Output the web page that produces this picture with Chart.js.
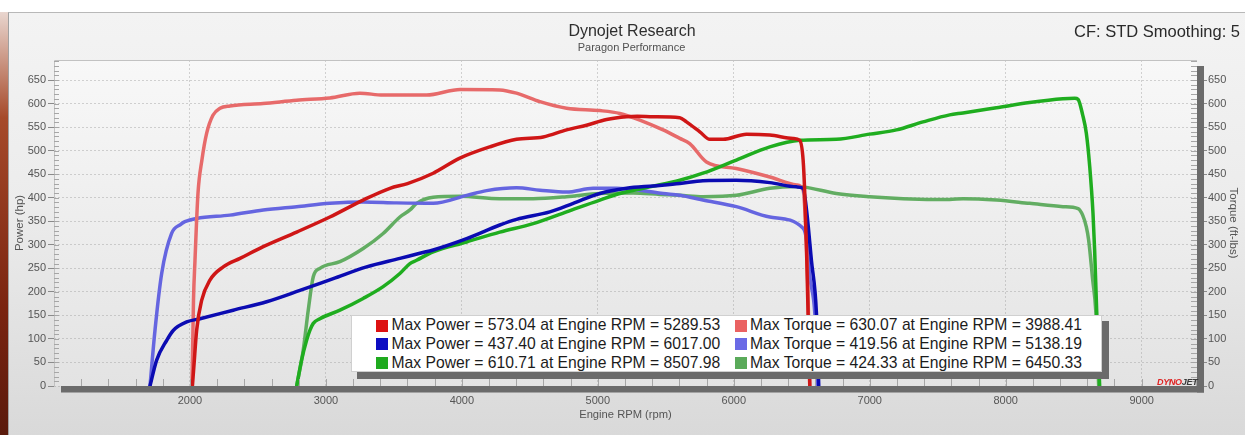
<!DOCTYPE html>
<html>
<head>
<meta charset="utf-8">
<script src="https://cdn.jsdelivr.net/npm/chart.js@4.4.1/dist/chart.umd.min.js"></script>
<style>
  html, body { margin: 0; padding: 0; }
  body { width: 1245px; height: 435px; overflow: hidden; position: relative; background: #ffffff;
         font-family: 'Liberation Sans', Arial, sans-serif; }
  #stripe { position: absolute; left: 0; top: 12px; width: 8px; height: 423px;
            background: linear-gradient(to bottom, #e9d6cf 0%, #a64a2a 25%, #7a2410 70%, #5a1a0c 100%); }
  #panel { position: absolute; left: 8px; top: 12px; width: 1237px; height: 423px; box-sizing: border-box;
           border-top: 1px solid #b8b8b8; border-left: 1px solid #a0a0a0;
           background: linear-gradient(to bottom, #f3f3f3 0%, #ececec 45%, #d9d9d9 100%); }
  canvas { position: absolute; left: 0; top: 0; }
  .txt { position: absolute; white-space: nowrap; line-height: 1; }
  #title { font-size: 16px; color: #2e2e2e; top: 22.5px; left: 0; width: 1264px; text-align: center; }
  #subtitle { font-size: 11px; color: #505050; top: 42px; left: 0; width: 1263px; text-align: center; }
  #cf { font-size: 16.5px; color: #2a2a2a; top: 23px; right: 5px; }
  #legShadow { position: absolute; left: 357px; top: 321px; width: 752px; height: 58px; background: #6b6b6b; }
  #legBox { position: absolute; left: 351px; top: 315px; width: 751px; height: 57px; background: #ffffff;
            box-sizing: border-box; border: 1px solid #d0d0d0; }
  .sq { position: absolute; width: 12px; height: 12px; }
  .lt { position: absolute; font-size: 15.7px; color: #1c1c1c; line-height: 1; white-space: nowrap; }
  #logo { position: absolute; left: 1157px; top: 377px; font-size: 9px; font-weight: bold; font-style: italic; letter-spacing: -0.3px; }
</style>
</head>
<body>
<div id="stripe"></div>
<div id="panel"></div>
<canvas id="c" width="1245" height="435"></canvas>
<div class="txt" id="title">Dynojet Research</div>
<div class="txt" id="subtitle">Paragon Performance</div>
<div class="txt" id="cf">CF: STD Smoothing: 5</div>
<div id="legShadow"></div>
<div id="legBox"></div>
<div id="logo"><span style="color:#e02424">DYNO</span><span style="color:#3a3a3a">JET</span></div>
<script>
// ---------------- DATA ----------------
const xTickValues = [2000, 3000, 4000, 5000, 6000, 7000, 8000, 9000];
const yTickValues = [0, 50, 100, 150, 200, 250, 300, 350, 400, 450, 500, 550, 600, 650];

const redPowerRpm  = [2018,2029,2049,2086,2147,2245,2368,2539,2785,3029,3274,3471,3600,3789,3985,4206,4402,4598,4770,4917,5064,5211,5290,5407,5603,5652,5750,5824,5922,6093,6265,6436,6485,6510,6522,6537,6559];
const redPowerHp   = [0,42,118,182,225,253,271,296,327,359,395,420,430,452,484,508,524,529,544,554,566,572,573,572,570,561,540,524,524,535,533,526,522,480,409,267,0];

const redTorqueRpm = [2015,2026,2037,2059,2088,2123,2169,2221,2294,2537,2785,3029,3250,3419,3593,3740,3988,4279,4402,4574,4770,5015,5162,5309,5480,5603,5676,5799,6019,6265,6461,6510,6529,6546,6559];
const redTorqueFt  = [0,182,267,409,480,537,575,590,595,600,607,612,622,618,618,618,630,629,622,604,590,585,579,565,544,526,515,476,462,444,427,416,338,196,0];

const bluePowerRpm = [1706,1755,1829,1877,1976,2074,2318,2564,2809,3054,3299,3544,3691,3789,4035,4279,4402,4647,4819,5015,5211,5407,5603,5773,6017,6265,6461,6510,6535,6571,6608,6625];
const bluePowerHp  = [0,55,97,118,136,143,161,179,203,228,253,271,282,289,313,342,354,370,388,409,420,425,430,436,437,432,423,420,374,267,154,0];

const blueTorqueRpm = [1706,1743,1792,1865,1930,1963,2049,2294,2539,2785,3029,3274,3520,3789,4035,4182,4402,4574,4770,4966,5138,5309,5480,5603,5773,6019,6265,6510,6535,6559,6596,6618];
const blueTorqueFt  = [0,119,239,324,343,349,356,363,374,381,388,391,389,388,405,415,421,416,412,420,420,416,409,405,395,381,359,335,310,232,154,0];

const greenPowerRpm = [2785,2821,2858,2882,2907,2956,3103,3274,3421,3544,3618,3667,3789,4035,4279,4524,4770,5015,5162,5382,5603,5773,6019,6265,6485,6754,7000,7196,7392,7588,7686,7932,8176,8421,8508,8532,8566,8593,8618,8642,8654,8669,8691];
const greenPowerHp  = [0,55,97,118,133,143,161,186,211,239,260,267,285,306,327,345,370,395,409,423,437,452,480,508,522,524,535,544,561,576,580,591,602,610,611,609,576,537,466,367,289,161,0];

const greenTorqueRpm = [2785,2833,2870,2907,2956,3103,3274,3421,3544,3618,3667,3789,3985,4279,4524,4770,5015,5259,5456,5603,5773,6019,6265,6450,6510,6754,7000,7245,7588,7686,7932,8176,8421,8532,8566,8593,8610,8640,8662,8684];
const greenTorqueFt  = [0,76,161,232,250,264,292,324,359,374,388,401,403,398,398,402,409,410,407,405,402,405,420,424,423,409,402,398,396,398,395,388,381,377,363,338,310,225,161,0];

const maxPowerVals  = [573.04, 437.40, 610.71];
const maxPowerRpms  = [5289.53, 6017.00, 8507.98];
const maxTorqueVals = [630.07, 419.56, 424.33];
const maxTorqueRpms = [3988.41, 5138.19, 6450.33];

const powerColors  = ['#cf1616', '#0b0bb2', '#1fad1f'];
const torqueColors = ['#e76a6a', '#6565e0', '#62ad62'];
const powerSquare  = ['#dd1111', '#0d0dc2', '#1faa1f'];
const torqueSquare = ['#ea6262', '#6a6ae6', '#5aaa5a'];

// ---------------- LEGEND (HTML) ----------------
(function buildLegend() {
  const rowsBaseline = [330.7, 349.4, 368.1];
  const fs = 15.7;
  const addRow = (sqX, txtX, color, text, i) => {
    const s = document.createElement('div');
    s.className = 'sq'; s.style.left = sqX + 'px'; s.style.top = (rowsBaseline[i] - 11) + 'px'; s.style.background = color;
    document.body.appendChild(s);
    const t = document.createElement('div');
    t.className = 'lt'; t.style.left = txtX + 'px'; t.style.top = (rowsBaseline[i] - 0.8465 * fs) + 'px';
    t.textContent = text;
    document.body.appendChild(t);
  };
  for (let i = 0; i < 3; i++) {
    addRow(376, 391.5, powerSquare[i], 'Max Power = ' + maxPowerVals[i].toFixed(2) + ' at Engine RPM = ' + maxPowerRpms[i].toFixed(2), i);
    addRow(734.5, 750, torqueSquare[i], 'Max Torque = ' + maxTorqueVals[i].toFixed(2) + ' at Engine RPM = ' + maxTorqueRpms[i].toFixed(2), i);
  }
})();

// ---------------- CHART ----------------
const pts = (xs, ys) => xs.map((x, i) => ({ x: x, y: ys[i] }));
const mk = (label, xs, ys, color, axis) => ({
  label, data: pts(xs, ys), borderColor: color, backgroundColor: color, borderWidth: 3.5,
  pointRadius: 0, fill: false, yAxisID: axis, cubicInterpolationMode: 'monotone',
  borderJoinStyle: 'round', borderCapStyle: 'round'
});

Chart.defaults.font.family = "'Liberation Sans', Arial, sans-serif";

const decor = {
  id: 'decor',
  beforeDraw(chart) {
    const { ctx, chartArea: a } = chart;
    const g = ctx.createLinearGradient(0, a.top, 0, a.bottom);
    g.addColorStop(0, '#f8f8f8'); g.addColorStop(1, '#e3e3e3');
    ctx.save(); ctx.fillStyle = g; ctx.fillRect(a.left, a.top, a.right - a.left, a.bottom - a.top); ctx.restore();
  },
  afterDatasetsDraw(chart) {
    const { ctx, chartArea: a, scales } = chart;
    const x = scales.x, y = scales.y;
    ctx.save();
    ctx.strokeStyle = '#c2c2c2'; ctx.lineWidth = 1;
    ctx.beginPath();
    ctx.moveTo(a.left + 0.5, a.bottom); ctx.lineTo(a.left + 0.5, a.top + 0.5); ctx.lineTo(a.right, a.top + 0.5);
    ctx.stroke();
    ctx.strokeStyle = '#a6a6a6';
    ctx.beginPath();
    for (let v = 10; v <= y.max; v += 10) {
      const py = Math.round(y.getPixelForValue(v)) + 0.5;
      ctx.moveTo(a.left, py); ctx.lineTo(a.left + 5, py);
      ctx.moveTo(a.right - 6, py); ctx.lineTo(a.right, py);
    }
    for (let r = 1200; r < x.max; r += 200) {
      const px = Math.round(x.getPixelForValue(r)) + 0.5;
      ctx.moveTo(px, a.bottom - 7); ctx.lineTo(px, a.bottom);
    }
    ctx.stroke();
    ctx.fillStyle = '#6b6b6b';
    ctx.fillRect(a.left + 7, a.bottom, a.right + 7 - (a.left + 7), 6.5);
    ctx.fillRect(a.right, a.top + 6, 7, a.bottom + 6.5 - (a.top + 6));
    ctx.restore();
  }
};

const gridColor = 'rgba(160,160,160,0.45)';
const setTicks = vals => s => { s.ticks = vals.map(v => ({ value: v })); };

new Chart(document.getElementById('c'), {
  type: 'line',
  data: {
    datasets: [
      mk('Power 1', redPowerRpm, redPowerHp, powerColors[0], 'y'),
      mk('Power 2', bluePowerRpm, bluePowerHp, powerColors[1], 'y'),
      mk('Power 3', greenPowerRpm, greenPowerHp, powerColors[2], 'y'),
      mk('Torque 1', redTorqueRpm, redTorqueFt, torqueColors[0], 'y1'),
      mk('Torque 2', blueTorqueRpm, blueTorqueFt, torqueColors[1], 'y1'),
      mk('Torque 3', greenTorqueRpm, greenTorqueFt, torqueColors[2], 'y1')
    ]
  },
  options: {
    responsive: false, animation: false, events: [],
    layout: { padding: { top: 60, left: 0, right: 0, bottom: 0 } },
    plugins: { legend: { display: false }, tooltip: { enabled: false }, title: { display: false } },
    scales: {
      x: {
        type: 'linear', min: 1000, max: 9407,
        afterBuildTicks: setTicks(xTickValues),
        afterFit: s => { s.height = 49; },
        ticks: { autoSkip: false, maxRotation: 0, minRotation: 0, padding: 8, color: '#555', font: { size: 11 }, callback: v => String(v) },
        grid: { color: gridColor, drawTicks: false },
        border: { display: false, dash: [2, 2] },
        title: { display: true, text: 'Engine RPM (rpm)', color: '#555', font: { size: 11.2 }, padding: { top: 0, bottom: 13 } }
      },
      y: {
        position: 'left', min: 0, max: 692.5,
        afterBuildTicks: setTicks(yTickValues),
        afterFit: s => { s.width = 54; },
        ticks: { autoSkip: false, padding: 2, color: '#555', font: { size: 11 }, callback: v => String(v) },
        grid: { color: gridColor, tickColor: '#8a8a8a', tickLength: 6, tickWidth: 1 },
        border: { display: false, dash: [2, 2] },
        title: { display: true, text: 'Power (hp)', color: '#555', font: { size: 11.5 }, padding: { top: 13, bottom: 0 } }
      },
      y1: {
        position: 'right', min: 0, max: 692.5,
        afterBuildTicks: setTicks(yTickValues),
        afterFit: s => { s.width = 48; },
        ticks: { autoSkip: false, padding: 1, color: '#555', font: { size: 11 }, callback: v => String(v) },
        grid: { drawOnChartArea: false, color: gridColor, tickColor: '#8a8a8a', tickLength: 10, tickWidth: 1 },
        border: { display: false },
        title: { display: true, text: 'Torque (ft-lbs)', color: '#555', font: { size: 11.5 }, padding: { top: 5, bottom: 0 } }
      }
    }
  },
  plugins: [decor]
});
</script>
</body>
</html>
